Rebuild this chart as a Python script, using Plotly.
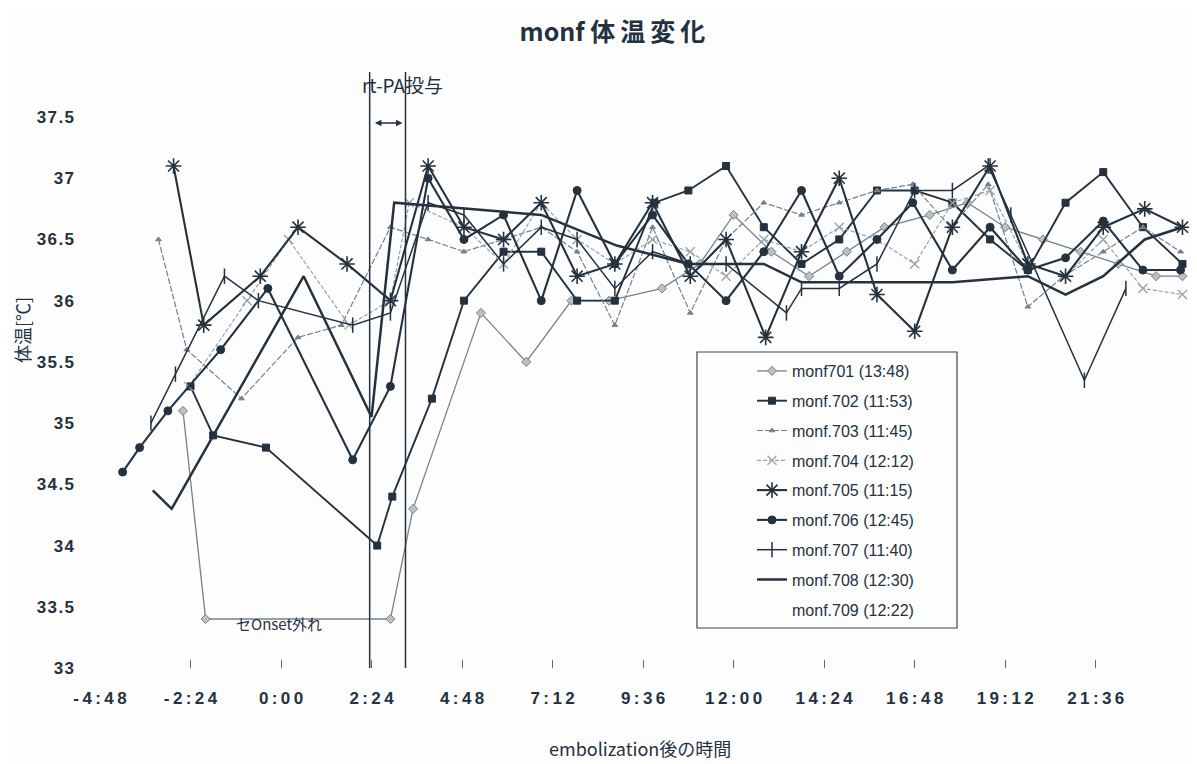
import plotly.graph_objects as go

# ---------------- data (hours after embolization, body temperature °C) ----------------
t701 = [-2.6, -2.0, 2.9, 3.5, 5.3, 6.5, 7.7, 8.7, 10.1, 11.1, 12.0, 13.0, 14.0, 15.0, 16.0, 17.2, 18.2, 19.2, 20.2, 21.2, 22.2, 23.2, 23.9]
v701 = [35.1, 33.4, 33.4, 34.3, 35.9, 35.5, 36.0, 36.0, 36.1, 36.3, 36.7, 36.4, 36.2, 36.4, 36.6, 36.7, 36.8, 36.6, 36.5, 36.4, 36.3, 36.2, 36.2]

t702 = [-2.4, -1.8, -0.4, 2.55, 2.95, 4.0, 4.85, 5.9, 6.9, 7.85, 8.85, 9.9, 10.8, 11.8, 12.8, 13.8, 14.8, 15.8, 16.8, 17.8, 18.8, 19.8, 20.8, 21.8, 22.85, 23.9]
v702 = [35.3, 34.9, 34.8, 34.0, 34.4, 35.2, 36.0, 36.4, 36.4, 36.0, 36.0, 36.8, 36.9, 37.1, 36.6, 36.3, 36.5, 36.9, 36.9, 36.8, 36.5, 36.25, 36.8, 37.05, 36.6, 36.3]

t703 = [-3.25, -2.5, -1.05, 0.45, 1.6, 2.9, 3.9, 4.85, 5.9, 6.9, 7.85, 8.85, 9.85, 10.85, 11.8, 12.8, 13.8, 14.8, 15.8, 16.75, 17.75, 18.75, 19.8, 20.75, 21.8, 22.85, 23.85]
v703 = [36.5, 35.6, 35.2, 35.7, 35.8, 36.6, 36.5, 36.4, 36.5, 36.6, 36.4, 35.8, 36.6, 35.9, 36.5, 36.8, 36.7, 36.8, 36.9, 36.95, 36.6, 36.95, 35.95, 36.2, 36.4, 36.6, 36.4]

t704 = [-2.45, -0.9, 0.2, 1.8, 2.9, 3.4, 4.85, 5.9, 6.9, 7.85, 8.85, 9.85, 10.85, 11.8, 12.8, 13.8, 14.8, 15.8, 16.8, 17.8, 18.8, 19.8, 20.8, 21.8, 22.85, 23.9]
v704 = [35.3, 36.0, 36.5, 35.8, 36.0, 36.8, 36.6, 36.3, 36.8, 36.5, 36.3, 36.5, 36.4, 36.2, 36.5, 36.4, 36.6, 36.5, 36.3, 36.8, 36.9, 36.3, 36.2, 36.5, 36.1, 36.05]

t705 = [-2.85, -2.05, -0.55, 0.45, 1.75, 2.9, 3.9, 4.85, 5.9, 6.9, 7.85, 8.85, 9.85, 10.85, 11.8, 12.85, 13.8, 14.8, 15.8, 16.8, 17.8, 18.8, 19.8, 20.8, 21.8, 22.9, 23.9]
v705 = [37.1, 35.8, 36.2, 36.6, 36.3, 36.0, 37.1, 36.6, 36.5, 36.8, 36.2, 36.3, 36.8, 36.2, 36.5, 35.7, 36.4, 37.0, 36.05, 35.75, 36.6, 37.1, 36.3, 36.2, 36.6, 36.75, 36.6]

t706 = [-4.2, -3.75, -3.0, -1.6, -0.35, 1.9, 2.9, 3.9, 4.85, 5.9, 6.9, 7.85, 8.85, 9.85, 10.8, 11.8, 12.8, 13.8, 14.8, 15.8, 16.75, 17.8, 18.8, 19.8, 20.8, 21.8, 22.85, 23.85]
v706 = [34.6, 34.8, 35.1, 35.6, 36.1, 34.7, 35.3, 37.0, 36.5, 36.7, 36.0, 36.9, 36.3, 36.7, 36.3, 36.0, 36.4, 36.9, 36.2, 36.5, 36.8, 36.25, 36.6, 36.25, 36.35, 36.65, 36.25, 36.25]

t707 = [-3.45, -2.8, -1.5, -0.6, 1.9, 2.9, 3.9, 4.85, 5.9, 6.9, 7.85, 8.85, 9.85, 10.85, 11.8, 13.4, 13.8, 14.8, 15.8, 16.8, 17.8, 18.75, 19.35, 21.3, 22.4]
v707 = [35.0, 35.4, 36.2, 36.0, 35.8, 35.9, 36.8, 36.7, 36.3, 36.6, 36.5, 36.1, 36.4, 36.3, 36.3, 35.9, 36.1, 36.1, 36.3, 36.9, 36.9, 37.1, 36.7, 35.35, 36.1]

t708 = [-3.4, -2.9, 0.6, 2.4, 3.0, 4.85, 6.9, 8.9, 10.8, 12.8, 13.8, 15.8, 17.8, 19.8, 20.8, 21.8, 22.9, 23.9]
v708 = [34.45, 34.3, 36.2, 35.05, 36.8, 36.75, 36.7, 36.45, 36.3, 36.3, 36.15, 36.15, 36.15, 36.2, 36.05, 36.2, 36.5, 36.6]

names = ["monf701 (13:48)", "monf.702 (11:53)", "monf.703 (11:45)", "monf.704 (12:12)",
         "monf.705 (11:15)", "monf.706 (12:45)", "monf.707 (11:40)", "monf.708 (12:30)",
         "monf.709 (12:22)"]

tick_vals = [-4.8, -2.4, 0, 2.4, 4.8, 7.2, 9.6, 12.0, 14.4, 16.8, 19.2, 21.6]
tick_text = ["-4:48", "-2:24", "0:00", "2:24", "4:48", "7:12", "9:36", "12:00", "14:24", "16:48", "19:12", "21:36"]
y_ticks = [33, 33.5, 34, 34.5, 35, 35.5, 36, 36.5, 37, 37.5]
rtpa_start, rtpa_end = 2.35, 3.3

DARK = "#24313f"
GRAY = "#76818b"
LGRAY = "#98a1a9"
TICKFONT = "Liberation Sans, Arial, sans-serif"
CJK = "Noto Sans CJK JP, sans-serif"

def spaced(s, sp="\u2009"):
    return sp.join(list(s))

# page pixel -> plot-area paper coordinates (plot area spans x 100..1190, y 117..668 on the page)
def px(x):
    return (x - 100) / 1090

def py(y):
    return (668 - y) / 551

fig = go.Figure()

def add(t, v, name, color, width, dash, symbol, size, mline=1, mcolor=None, g=0):
    fig.add_trace(go.Scatter(
        x=t, y=v, name=name, mode="lines+markers" if symbol else "lines",
        line=dict(color=color, width=width, dash=dash),
        marker=dict(symbol=symbol or "circle", size=size, color=mcolor or color,
                    line=dict(color=color, width=mline)),
        legendgroup=f"g{g}",
    ))

add(t701, v701, names[0], GRAY, 1.3, "solid", "diamond", 7, 1, "#b9c0c6", 0)
add(t702, v702, names[1], DARK, 1.9, "solid", "square", 7, 1, None, 1)
add(t703, v703, names[2], GRAY, 1.2, "6px,2px", "triangle-up", 5, 1, None, 2)
add(t704, v704, names[3], LGRAY, 1.2, "4px,2px", "x-thin-open", 9, 1.3, None, 3)
add(t705, v705, names[4], DARK, 2.1, "solid", "asterisk-open", 13, 1.6, None, 4)
add(t706, v706, names[5], DARK, 2.1, "solid", "circle", 8, 1, None, 5)
add(t707, v707, names[6], DARK, 1.5, "solid", "line-ns-open", 11, 1.5, None, 6)
add(t708, v708, names[7], DARK, 2.5, "solid", None, 6, 1, None, 7)
fig.add_trace(go.Scatter(x=[None], y=[None], name=names[8], mode="lines",
                         line=dict(color="rgba(0,0,0,0)", width=0), legendgroup="g8"))

# rt-PA administration window
for xv in (rtpa_start, rtpa_end):
    fig.add_shape(type="line", xref="x", yref="paper", x0=xv, x1=xv, y0=0, y1=py(72),
                  line=dict(color=DARK, width=1.5))
fig.add_annotation(xref="x", yref="paper", x=rtpa_end - 0.08, y=py(123), ax=rtpa_start + 0.1, ay=0,
                   axref="x", ayref="pixel", text="", showarrow=True, arrowhead=2, arrowside="end+start",
                   arrowsize=1, arrowwidth=1.3, arrowcolor=DARK)
fig.add_annotation(xref="paper", yref="paper", x=px(402), y=py(85), xanchor="center", yanchor="middle",
                   text="rt-PA投与", showarrow=False,
                   font=dict(size=19, color=DARK, family=CJK))
fig.add_annotation(xref="x", yref="y", x=-0.05, y=33.36, xanchor="center", text="セOnset外れ",
                   showarrow=False, font=dict(size=15, color=DARK, family=CJK))
# axis titles placed as annotations to match the reference positions
fig.add_annotation(xref="paper", yref="paper", x=px(640), y=py(748), xanchor="center", yanchor="middle",
                   text="embolization後の時間", showarrow=False,
                   font=dict(size=18, color=DARK, family=CJK))
fig.add_annotation(xref="paper", yref="paper", x=px(22), y=py(330), xanchor="center", yanchor="middle",
                   text="体温[℃]", textangle=-90, showarrow=False,
                   font=dict(size=18, color=DARK, family=CJK))

# legend frame
fig.add_shape(type="rect", xref="paper", yref="paper",
              x0=px(697), x1=px(957), y0=py(628), y1=py(352),
              line=dict(color="#3a4450", width=1.2), fillcolor="rgba(255,255,255,0)")

fig.update_layout(
    width=1197, height=764,
    margin=dict(l=92, r=15, t=109, b=104),
    paper_bgcolor="#fdfdfd", plot_bgcolor="#fdfdfd",
    title=dict(text="<b>monf " + spaced("体温変化") + "</b>", x=0.505, xanchor="center",
               y=0.968, yanchor="middle",
               font=dict(size=25, color=DARK, family=CJK)),
    font=dict(family=TICKFONT, color=DARK, size=15),
    showlegend=True,
    legend=dict(x=px(752), y=py(354), xanchor="left", yanchor="top",
                bgcolor="rgba(0,0,0,0)", borderwidth=0, tracegroupgap=6,
                font=dict(size=16, family=TICKFONT, color=DARK)),
    xaxis=dict(range=[-4.8, 24.1], tickmode="array", tickvals=tick_vals,
               ticktext=[spaced(s) for s in tick_text],
               showgrid=False, zeroline=False, showline=False, ticks="inside", ticklen=8,
               tickcolor="#666", ticklabelstandoff=18,
               tickfont=dict(size=17, family=TICKFONT, color=DARK, weight="bold")),
    yaxis=dict(range=[33, 37.5], tickmode="array", tickvals=y_ticks,
               ticktext=[spaced(f"{v:g}", "\u200a") for v in y_ticks], showgrid=False, zeroline=False,
               showline=False, ticks="", ticklabelstandoff=25,
               tickfont=dict(size=17, family=TICKFONT, color=DARK, weight="bold")),
)

fig.write_html("out.html")
